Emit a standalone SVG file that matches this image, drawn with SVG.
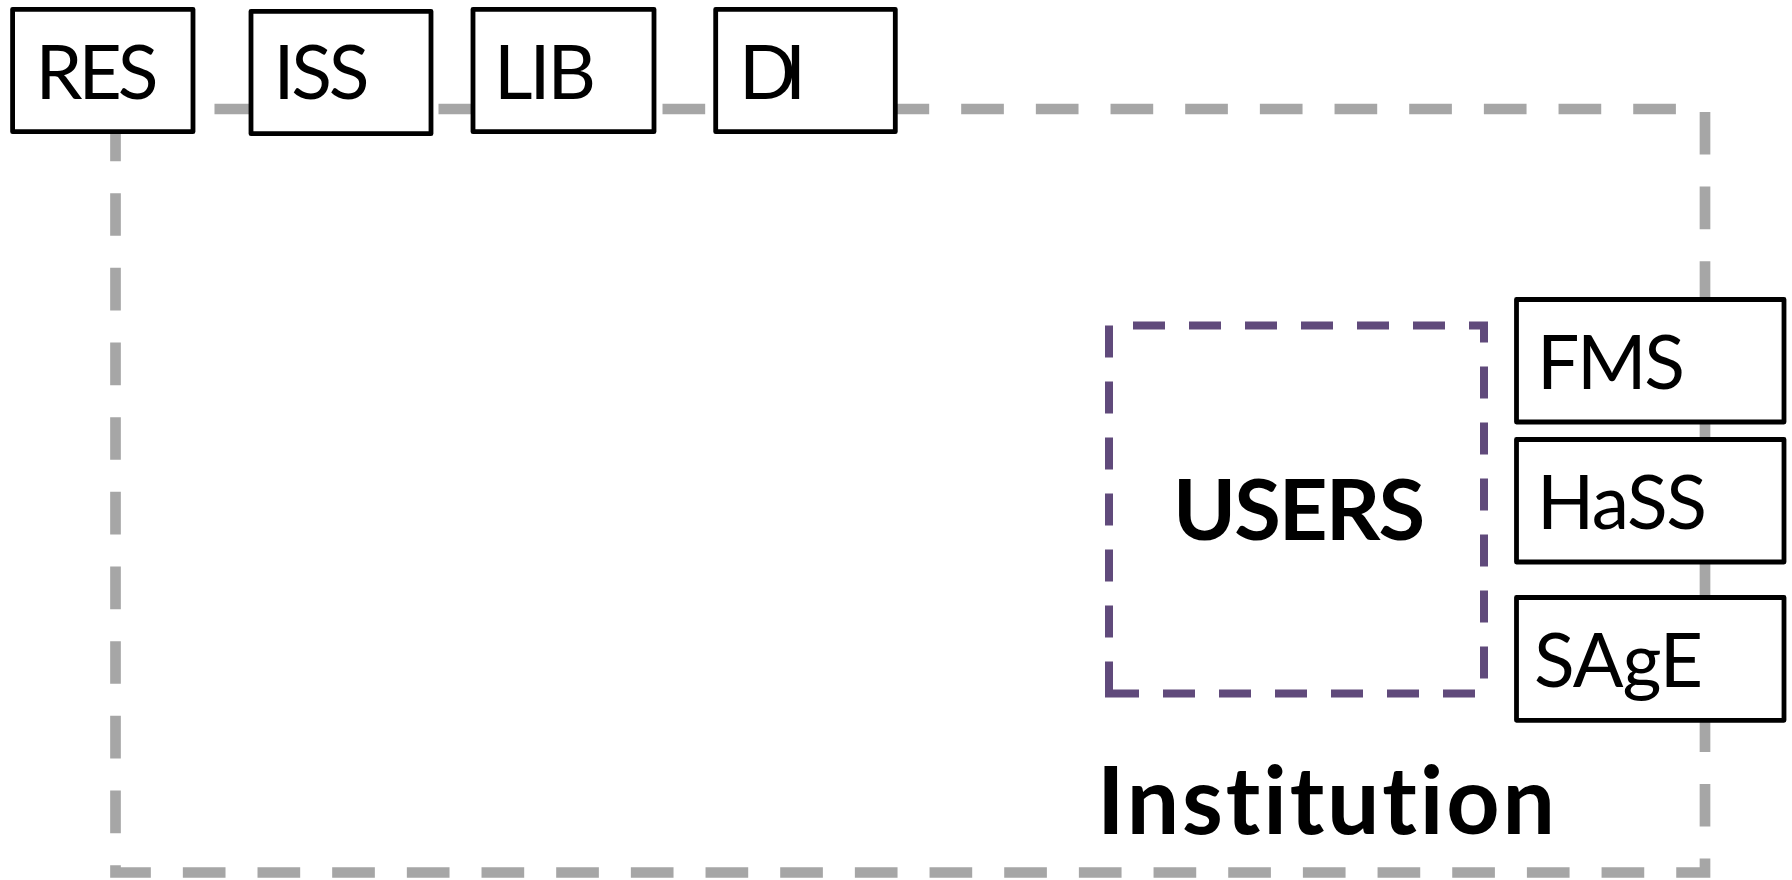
<svg xmlns="http://www.w3.org/2000/svg" width="1792" height="880" viewBox="0 0 1792 880">
  <style>
    .box { fill: #FFFFFF; stroke: #000000; stroke-width: 4.8; stroke-linejoin: round; }
    .lbl { font-family: Lato, "Open Sans", "Liberation Sans", sans-serif; font-size: 75px; fill: #000000; text-anchor: middle; font-variant-ligatures: none; font-feature-settings: "liga" 0, "dlig" 0; }
    .big { font-family: Lato, "Open Sans", "Liberation Sans", sans-serif; font-weight: bold; fill: #000000; text-anchor: middle; font-variant-ligatures: none; font-feature-settings: "liga" 0, "dlig" 0; }
    .inst { fill: none; stroke: #A6A6A6; stroke-width: 10.67; stroke-dasharray: 42.67 32; stroke-dashoffset: 65.2; stroke-linejoin: miter; }
    .users { fill: none; stroke: #604A7B; stroke-width: 8; stroke-dasharray: 32 24; stroke-linejoin: miter; }
  </style>
  <rect x="0" y="0" width="1792" height="880" fill="#FFFFFF"/>
  <g id="container-institution">
    <path class="inst" d="M115.5,109 V872.5 H1705 V109 Z"/>
    <text class="big" x="1326" y="834" font-size="93" textLength="458">Institution</text>
  </g>
  <g id="container-users">
    <path class="users" d="M1109,693.5 V325.5 H1484 V693.5 Z"/>
    <text class="big" x="1299" y="540" font-size="85" textLength="252">USERS</text>
  </g>
  <g id="connectors"></g>
  <g id="node-res">
    <rect class="box" x="12.6" y="9.3" width="180.4" height="122.4"/>
    <text class="lbl" x="97" y="99.3" textLength="123">RES</text>
  </g>
  <g id="node-iss">
    <rect class="box" x="251" y="11.3" width="180" height="122.4"/>
    <text class="lbl" x="321.5" y="99.3" textLength="96">ISS</text>
  </g>
  <g id="node-lib">
    <rect class="box" x="473" y="9.3" width="181" height="122.4"/>
    <text class="lbl" x="545" y="99.3" textLength="102">LIB</text>
  </g>
  <g id="node-di">
    <rect class="box" x="715.7" y="9.3" width="179.6" height="122.4"/>
    <text class="lbl" x="772.5" y="99.3" textLength="67">DI</text>
  </g>
  <g id="node-fms">
    <rect class="box" x="1516.5" y="299.5" width="267.5" height="122.5"/>
    <text class="lbl" x="1611" y="389" textLength="148">FMS</text>
  </g>
  <g id="node-hass">
    <rect class="box" x="1516.5" y="439.5" width="267.5" height="122.5"/>
    <text class="lbl" x="1622" y="529" textLength="170">HaSS</text>
  </g>
  <g id="node-sage">
    <rect class="box" x="1516.5" y="597.5" width="267.5" height="122.8"/>
    <text class="lbl" x="1618.5" y="687" textLength="169">SAgE</text>
  </g>
</svg>
